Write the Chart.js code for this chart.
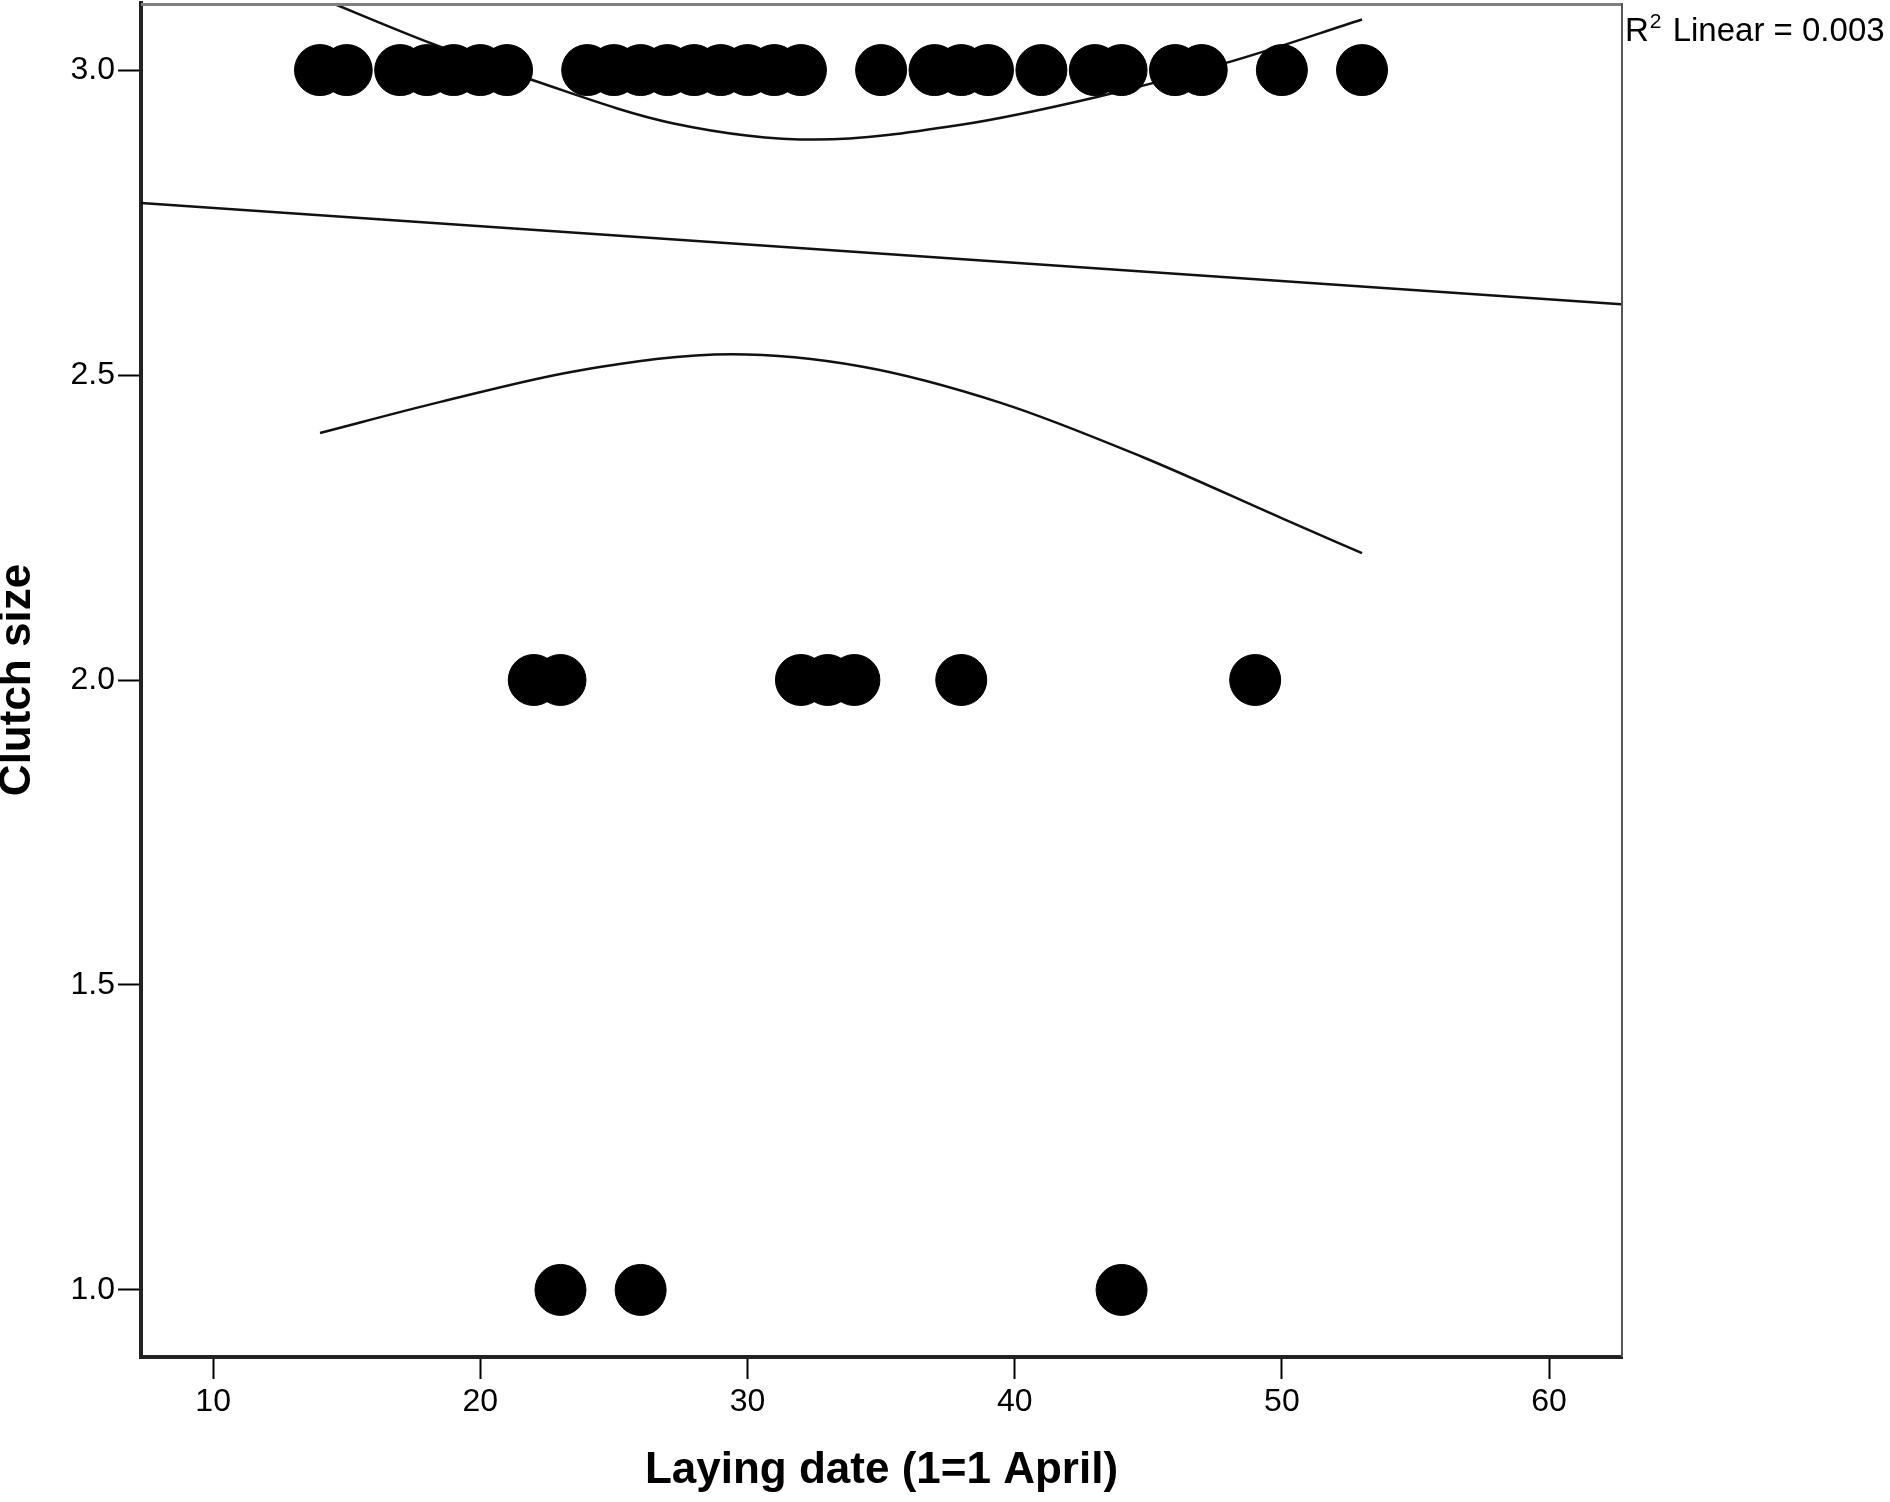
<!DOCTYPE html>
<html>
<head>
<meta charset="utf-8">
<script src="https://cdn.jsdelivr.net/npm/chart.js@4/dist/chart.umd.min.js"></script>
<style>
  html, body { margin: 0; padding: 0; background: #fff; }
  #wrap { width: 1890px; height: 1502px; }
</style>
</head>
<body>
<div id="wrap"><canvas id="c" width="1890" height="1502"></canvas></div>
<script>
// ---- Data ----
const clutch3Dates = [14,15,17,18,19,20,21,24,25,26,27,28,29,30,31,32,35,37,38,39,41,43,44,46,47,50,53];
const clutch2Dates = [22,23,32,33,34,38,49];
const clutch1Dates = [23,26,44];

const linearFitX = [7.3, 62.7];
const linearFitY = [2.782, 2.616];

const upperCIX = [14, 18.15, 22.0, 27.19, 32.56, 37.93, 43.08, 48.24, 53];
const upperCIY = [3.118, 3.044, 2.983, 2.913, 2.886, 2.910, 2.956, 3.016, 3.083];

const lowerCIX = [14, 18.51, 23.76, 29.4, 34.26, 39.51, 44.76, 50.01, 53];
const lowerCIY = [2.405, 2.456, 2.508, 2.534, 2.514, 2.454, 2.366, 2.265, 2.208];

const xTickValues = [10, 20, 30, 40, 50, 60];
const yTickValues = [1.0, 1.5, 2.0, 2.5, 3.0];

const xTitle = 'Laying date (1=1 April)';
const yTitle = 'Clutch size';
const r2Label = 'Linear = 0.003';

// ---- Build datasets ----
const pts = [];
clutch3Dates.forEach(d => pts.push({x: d, y: 3}));
clutch2Dates.forEach(d => pts.push({x: d, y: 2}));
clutch1Dates.forEach(d => pts.push({x: d, y: 1}));

const zip = (xs, ys) => xs.map((x, i) => ({x, y: ys[i]}));

const FONT = '"Liberation Sans", Arial, Helvetica, sans-serif';

const framePlugin = {
  id: 'frame',
  afterDraw(chart) {
    const {ctx, chartArea: a} = chart;
    ctx.save();
    ctx.strokeStyle = '#7f7f7f';
    ctx.lineWidth = 3;
    ctx.beginPath();
    ctx.moveTo(a.left, a.top + 1.5);
    ctx.lineTo(a.right, a.top + 1.5);
    ctx.stroke();
    ctx.strokeStyle = '#555';
    ctx.lineWidth = 2;
    ctx.beginPath();
    ctx.moveTo(a.right, a.top);
    ctx.lineTo(a.right, a.bottom);
    ctx.stroke();
    // R² label
    ctx.fillStyle = '#000';
    ctx.textBaseline = 'alphabetic';
    ctx.textAlign = 'left';
    let x = a.right + 3;
    const y = 41;
    ctx.font = '33px ' + FONT;
    ctx.fillText('R', x, y);
    x += ctx.measureText('R').width + 1;
    ctx.font = '21px ' + FONT;
    ctx.fillText('2', x, y - 13);
    x += ctx.measureText('2').width + 2;
    ctx.font = '33px ' + FONT;
    ctx.fillText(' ' + r2Label, x, y);
    ctx.restore();
  }
};

new Chart(document.getElementById('c'), {
  type: 'scatter',
  data: {
    datasets: [
      {
        label: 'Clutch size',
        data: pts,
        pointRadius: 25.5,
        pointBackgroundColor: '#000',
        pointBorderColor: '#000',
        pointBorderWidth: 1,
        order: 1
      },
      {
        label: 'Linear fit',
        data: zip(linearFitX, linearFitY),
        showLine: true, pointRadius: 0, borderColor: '#111', borderWidth: 2.5,
        order: 2
      },
      {
        label: 'Upper CI',
        data: zip(upperCIX, upperCIY),
        showLine: true, pointRadius: 0, borderColor: '#111', borderWidth: 2.5,
        cubicInterpolationMode: 'monotone', order: 2
      },
      {
        label: 'Lower CI',
        data: zip(lowerCIX, lowerCIY),
        showLine: true, pointRadius: 0, borderColor: '#111', borderWidth: 2.5,
        cubicInterpolationMode: 'monotone', order: 2
      }
    ]
  },
  options: {
    responsive: false,
    animation: false,
    devicePixelRatio: 1,
    layout: { autoPadding: false, padding: { top: 3, right: 268, left: 0, bottom: 0 } },
    plugins: { legend: { display: false }, tooltip: { enabled: false } },
    scales: {
      x: {
        type: 'linear',
        min: 7.3, max: 62.73,
        afterFit(s) { s.height = 145; s.paddingLeft = 0; s.paddingRight = 0; },
        afterBuildTicks(s) { s.ticks = xTickValues.map(v => ({value: v})); },
        ticks: {
          color: '#000', padding: 4,
          font: { family: FONT, size: 32 },
          callback: v => String(v)
        },
        grid: { drawOnChartArea: false, tickLength: 22, tickColor: '#000', tickWidth: 2 },
        border: { color: '#222', width: 4 },
        title: {
          display: true, text: xTitle, color: '#000',
          font: { family: FONT, size: 44, weight: 'bold', lineHeight: 0.82 },
          padding: { top: 0, bottom: 13 }
        }
      },
      y: {
        type: 'linear',
        min: 0.89, max: 3.11,
        afterFit(s) { s.width = 141; s.paddingTop = 0; s.paddingBottom = 0; },
        afterBuildTicks(s) { s.ticks = yTickValues.map(v => ({value: v})); },
        ticks: {
          color: '#000', padding: 3,
          font: { family: FONT, size: 32 },
          callback: v => Number(v).toFixed(1)
        },
        grid: { drawOnChartArea: false, tickLength: 23, tickColor: '#000', tickWidth: 2 },
        border: { color: '#222', width: 4 },
        title: {
          display: true, text: yTitle, color: '#000',
          font: { family: FONT, size: 44, weight: 'bold', lineHeight: 0.82 },
          padding: { top: 0, bottom: 0 }
        }
      }
    }
  },
  plugins: [framePlugin]
});
</script>
</body>
</html>
